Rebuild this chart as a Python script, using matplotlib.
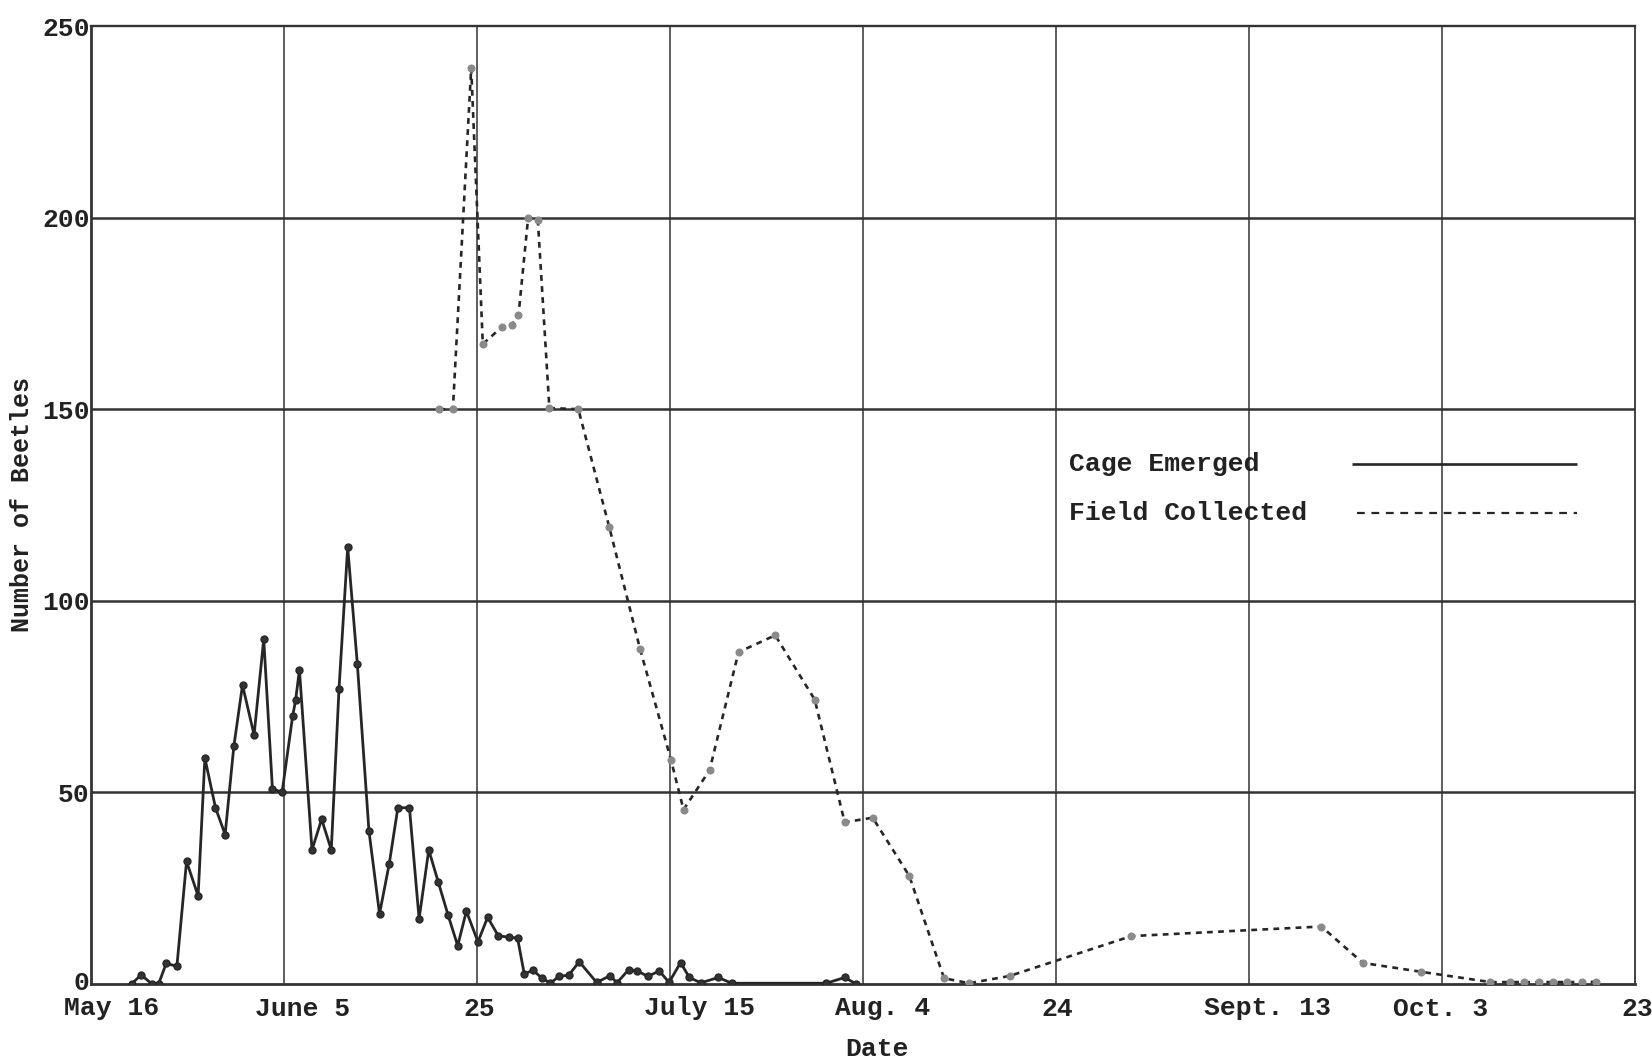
import matplotlib
matplotlib.use("Agg")
import matplotlib.pyplot as plt
from matplotlib.transforms import ScaledTranslation

# ---- data (x = days after May 16) ----
cage_days = [4.2, 5.2, 6.3, 7.0, 7.8, 8.9, 9.9, 11.1, 11.8, 12.9, 13.9, 14.8, 15.7,
             16.9, 17.9, 18.8, 19.8, 20.9, 21.2, 21.6, 22.9, 23.9, 24.9, 25.7, 26.6,
             27.6, 28.8, 29.9, 30.9, 31.8, 33.0, 34.0, 35.0, 36.0, 37.0, 38.0, 38.9,
             40.1, 41.1, 42.2, 43.3, 44.2, 44.9, 45.8, 46.7, 47.6, 48.5, 49.5, 50.6,
             52.4, 53.8, 54.5, 55.7, 56.6, 57.7, 58.9, 59.9, 61.1, 62.0, 63.2, 65.0,
             66.4, 76.2, 78.1, 79.3]
cage_vals = [0, 2.4, 0, 0, 5.4, 4.6, 32, 23, 59, 46, 39, 62, 78,
             65, 90, 51, 50, 70, 74, 82, 35, 43, 35, 77, 114,
             83.5, 40, 18.3, 31.3, 46, 46, 17, 35, 26.5, 18, 10, 19,
             11, 17.4, 12.6, 12.2, 12, 2.6, 3.6, 1.6, 0.2, 2, 2.3, 5.8,
             0.4, 2.2, 0.3, 3.7, 3.4, 2, 3.4, 0.4, 5.6, 1.7, 0.3, 1.7,
             0.2, 0.2, 1.7, 0]

field_days = [36.1, 37.5, 39.4, 40.6, 42.6, 43.6, 44.3, 45.3, 46.3, 47.5, 50.5,
              53.7, 56.9, 60.1, 61.4, 64.1, 67.1, 70.9, 75.0, 78.1, 81.0, 84.8,
              88.4, 91.0, 95.2, 107.8, 127.5, 131.8, 137.8, 145.0, 147.0, 148.5,
              150.0, 151.5, 153.0, 154.5, 156.0]
field_vals = [150, 150, 239, 167, 171.5, 172, 174.5, 200, 199.5, 150.3, 150,
              119.3, 87.4, 58.5, 45.5, 55.8, 86.6, 91, 74.2, 42.2, 43.4, 28.2,
              1.5, 0.2, 2.1, 12.5, 15, 5.5, 3.2, 0.5, 0.5, 0.5,
              0.5, 0.5, 0.5, 0.5, 0.6]

tick_days = [0, 20, 40, 60, 80, 100, 120, 140, 160]
tick_labels = ["May 16", "June 5", "25", "July 15", "Aug. 4", "24", "Sept. 13", "Oct. 3", "23"]
y_ticks = [0, 50, 100, 150, 200, 250]
series_names = ["Cage Emerged", "Field Collected"]

FONT = ["Liberation Mono", "DejaVu Sans Mono"]
FS = 19
TXT = "#222222"
ink = "#262626"
solid_style = "-"
dash_style = (0, (2.2, 2.0))

fig = plt.figure(figsize=(16.52, 10.60), dpi=100)
ax = fig.add_axes([91/1652, 1 - 984/1060, (1635 - 91)/1652, (984 - 26)/1060])

ax.plot(cage_days, cage_vals, color=ink, lw=2.0, linestyle=solid_style, marker="o", ms=5,
        mfc="#333333", mec="#262626", zorder=3)
ax.plot(field_days, field_vals, color=ink, lw=1.9, linestyle=dash_style,
        marker="o", ms=4.8, mfc="#8a8a8a", mec="#8a8a8a", zorder=3)

ax.set_xlim(0, 160)
ax.set_ylim(0, 250)
ax.set_xticks(tick_days)
ax.set_xticklabels(tick_labels)
ax.set_yticks(y_ticks)
ax.tick_params(axis="both", length=0, labelsize=FS)
ax.tick_params(axis="x", pad=9)
ax.tick_params(axis="y", pad=1)
for lab in ax.get_xticklabels() + ax.get_yticklabels():
    lab.set_fontfamily(FONT)
    lab.set_fontweight("bold")
    lab.set_color(TXT)

# typewritten labels sit slightly right of their grid lines (offsets in pixels)
label_shift_px = [21, 19, 2, 30, 20, 1, 19, -1, 2]
for lab, dx in zip(ax.get_xticklabels(), label_shift_px):
    lab.set_transform(lab.get_transform() + ScaledTranslation(dx / 100, 0, fig.dpi_scale_trans))
# the "0" label sits a touch above the baseline corner
zero_lab = ax.get_yticklabels()[0]
zero_lab.set_transform(zero_lab.get_transform() + ScaledTranslation(0, 4 / 100, fig.dpi_scale_trans))

for y in y_ticks[1:-1]:
    ax.axhline(y, color="#333333", lw=1.8, zorder=1)
for x in tick_days[1:-1]:
    ax.axvline(x, color="#333333", lw=1.1, zorder=1)
for side in ["left", "right", "top", "bottom"]:
    ax.spines[side].set_color("#333333")
ax.spines["left"].set_linewidth(2.0)
ax.spines["bottom"].set_linewidth(2.0)
ax.spines["top"].set_linewidth(1.7)
ax.spines["right"].set_linewidth(1.3)

ax.set_xlabel("Date", fontsize=FS, family=FONT, fontweight="bold", color=TXT)
ax.xaxis.set_label_coords(0.509, -0.055)
ax.set_ylabel("Number of Beetles", fontsize=FS - 1, family=FONT, fontweight="bold", color=TXT)
ax.yaxis.set_label_coords(-0.037, 0.5)

# legend drawn as typed text with sample lines (axes-fraction placement)
leg_rows = [(0.5432, solid_style, 1.9, 0.8166), (0.4914, (0, (3.5, 3.0)), 1.6, 0.8200)]
for name, (yy, ls, lw, x0) in zip(series_names, leg_rows):
    ax.text(0.6334, yy, name, transform=ax.transAxes, va="center", ha="left",
            fontsize=FS, family=FONT, fontweight="bold", color=TXT)
    ax.plot([x0, 0.9625], [yy, yy], transform=ax.transAxes, color=ink, lw=lw,
            linestyle=ls, solid_capstyle="butt")

fig.savefig("out.png", dpi=100, facecolor="white")
